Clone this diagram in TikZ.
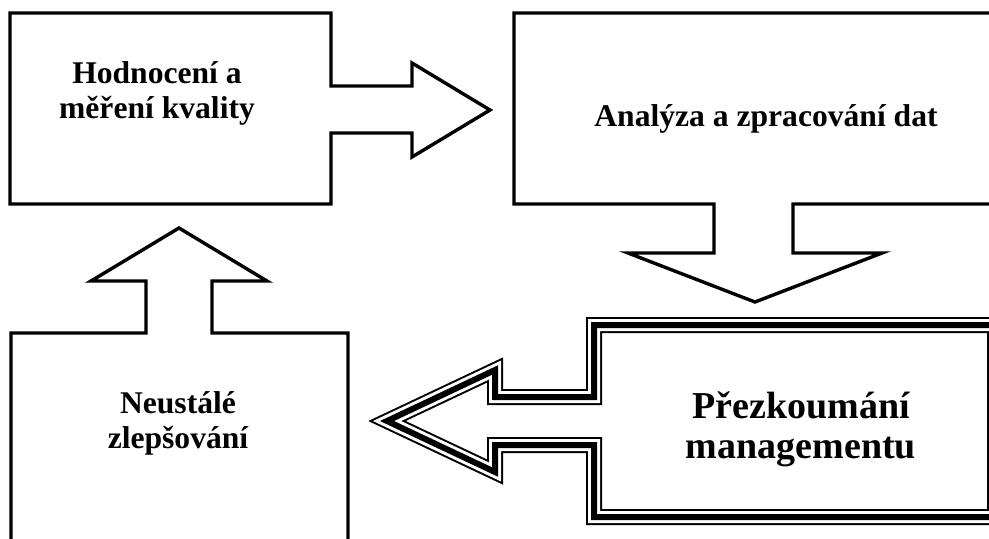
\documentclass[tikz,border=0pt]{standalone}
\usepackage{fontspec}
\setmainfont{Liberation Serif}
\begin{document}
\begin{tikzpicture}[
x=0.5pt, y=-0.5pt,
 callout/.style = {draw=black, line width=1.7pt},
 triple/.style = {preaction={draw=black, line width=8pt},
                  preaction={draw=white, line width=6pt},
                  draw=black, line width=3pt},
 lbl/.style = {align=center, inner sep=0pt,
               font=\bfseries\fontsize{15.8}{17.5}\selectfont},
 biglbl/.style = {align=center, inner sep=0pt,
               font=\bfseries\fontsize{19}{20}\selectfont}
                    ]
\useasboundingbox (0,0) rectangle (989,538);
\fill[white] (0,0) rectangle (989,538);
\clip (0,0) rectangle (989,538);
%
\draw[callout] (10,13) -- (331,13) -- (331,86) -- (412,86) -- (412,63)
   -- (490,110) -- (412,157) -- (412,133) -- (331,133) -- (331,204)
   -- (10,204) -- cycle;
\draw[callout] (1010,13) -- (514,13) -- (514,204) -- (714,204) -- (714,253)
   -- (628,253) -- (755,302) -- (882,253) -- (793,253) -- (793,204)
   -- (1010,204);
\draw[callout] (11,560) -- (11,333) -- (146,333) -- (146,281) -- (91,281)
   -- (179,228) -- (267,281) -- (212,281) -- (212,333) -- (348,333)
   -- (348,560);
\draw[triple] (995,325) -- (594,325) -- (594,397) -- (495,397) -- (495,370)
   -- (387,421) -- (495,472) -- (495,445) -- (594,445) -- (594,517)
   -- (995,517) -- cycle;
%
\node (evalTxt) [lbl] at (157,93) {Hodnocení a\\měření kvality};
\node (anaTxt)  [lbl] at (766,119) {Analýza a zpracování dat};
\node (impTxt)  [lbl] at (178,423) {Neustálé\\zlepšování};
\node (mgmtTxt) [biglbl] at (801,429) {Přezkoumání\\managementu};
\end{tikzpicture}
\end{document}
